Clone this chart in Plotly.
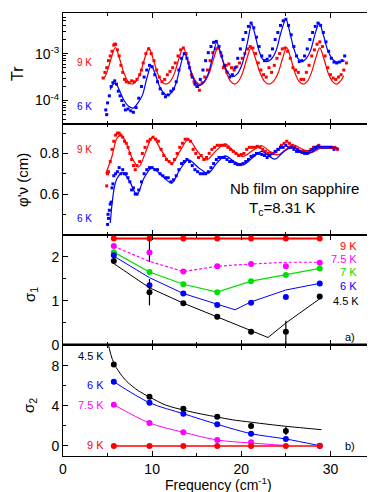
import numpy as np
import plotly.graph_objects as go

# ---------------- Panel 1: transmission Tr (log10 values) ----------------
tr9_fit_f = [4.6, 4.91, 5.39, 5.87, 6.35, 6.83, 7.3, 7.75, 8.2, 8.67, 9.15, 9.63, 10.11, 10.59, 11.07, 11.55,
             12.04, 12.52, 13.0, 13.48, 13.96, 14.44, 14.92, 15.42, 15.93, 16.41, 16.89, 17.37, 17.85, 18.33,
             18.8, 19.25, 19.68, 20.15, 20.62, 21.1, 21.6, 22.1, 22.6, 23.1, 23.62, 24.14, 24.62, 25.1, 25.56,
             26.02, 26.48, 26.95, 27.4, 27.86, 28.33, 28.8, 29.27, 29.74, 30.21, 30.7, 31.15, 31.5]
tr9_fit_lg = [-3.53, -3.41, -3.11, -2.87, -3.11, -3.41, -3.59, -3.65, -3.59, -3.41, -3.11, -2.87, -3.11, -3.41,
              -3.59, -3.65, -3.59, -3.41, -3.11, -2.87, -3.11, -3.41, -3.59, -3.66, -3.59, -3.41, -3.11, -2.88,
              -3.11, -3.41, -3.59, -3.65, -3.59, -3.41, -3.11, -2.88, -3.11, -3.41, -3.59, -3.65, -3.59, -3.41,
              -3.11, -2.87, -3.11, -3.41, -3.59, -3.65, -3.59, -3.41, -3.11, -2.88, -3.11, -3.41, -3.59, -3.65,
              -3.58, -3.47]
tr6_fit_f = [5.3, 5.6, 5.87, 6.35, 6.85, 7.35, 7.9, 8.4, 8.9, 9.4, 9.9, 10.37, 10.84, 11.3, 11.76, 12.23, 12.7,
             13.16, 13.63, 14.05, 14.47, 14.9, 15.3, 15.78, 16.27, 16.76, 17.25, 17.7, 18.15, 18.6, 19.0, 19.55,
             20.1, 20.65, 21.17, 21.57, 21.97, 22.37, 22.8, 23.35, 23.9, 24.45, 25.0, 25.45, 25.9, 26.35, 26.8,
             27.3, 27.8, 28.25, 28.75, 29.22, 29.7, 30.2, 30.7, 31.2, 31.6]
tr6_fit_lg = [-3.77, -3.66, -3.63, -3.79, -4.0, -4.12, -4.16, -4.05, -3.89, -3.53, -3.25, -3.45, -3.70, -3.84,
              -3.89, -3.82, -3.62, -3.27, -2.99, -3.2, -3.47, -3.62, -3.68, -3.61, -3.44, -3.09, -2.76, -2.99,
              -3.27, -3.43, -3.49, -3.43, -3.22, -2.80, -2.37, -2.62, -2.93, -3.11, -3.17, -3.12, -2.94, -2.55,
              -2.27, -2.55, -2.90, -3.10, -3.17, -3.10, -2.92, -2.60, -2.35, -2.61, -2.93, -3.11, -3.18, -3.17,
              -3.15]
tr9_f = [4.5, 4.7, 4.9, 5.1, 5.3, 5.5, 5.7, 5.8, 5.9, 6.1, 6.3, 6.5, 6.7, 6.9, 7.1, 7.4, 7.7, 8.0, 8.3, 8.6,
         8.8, 9.0, 9.3, 9.6, 9.9, 10.2, 10.5, 10.8, 11.1, 11.4, 11.7, 12.0, 12.3, 12.6, 12.9, 13.2, 13.5, 13.8,
         14.1, 14.4, 14.7, 15.0, 15.3, 15.6, 15.9, 16.2, 16.5, 16.8, 17.1, 17.4, 17.7, 18.0, 18.3, 18.6, 18.9,
         19.2, 19.5, 19.8, 20.1, 20.4, 20.7, 21.0, 21.3, 21.6, 21.9, 22.2, 22.5, 22.8, 23.1, 23.4, 23.7, 24.0,
         24.3, 24.6, 24.9, 25.2, 25.5, 25.8, 26.1, 26.4, 26.7, 27.0, 27.3, 27.6, 27.9, 28.2, 28.5, 28.8, 29.1,
         29.4, 29.7, 30.0, 30.3, 30.6, 30.9, 31.2, 31.5, 31.8]
tr9_lg = [-3.52, -3.40, -3.30, -3.15, -3.05, -2.95, -2.82, -2.80, -2.80, -2.92, -3.05, -3.25, -3.40, -3.55,
          -3.60, -3.62, -3.58, -3.60, -3.55, -3.45, -3.35, -3.20, -3.00, -2.90, -3.00, -3.15, -3.35, -3.50,
          -3.60, -3.55, -3.45, -3.38, -3.30, -3.20, -3.05, -2.92, -2.88, -3.00, -3.20, -3.45, -3.60, -3.70,
          -3.78, -3.62, -3.50, -3.35, -3.15, -2.98, -2.90, -2.88, -2.98, -3.30, -3.25, -3.22, -3.30, -3.35,
          -3.28, -3.20, -3.10, -3.00, -2.90, -2.85, -2.88, -3.00, -3.20, -3.35, -3.45, -3.50, -3.30, -3.40,
          -3.25, -3.10, -3.00, -2.90, -2.88, -2.95, -3.10, -3.30, -3.35, -3.40, -3.55, -3.55, -3.40, -3.25,
          -3.05, -2.92, -2.80, -2.75, -2.85, -3.05, -3.30, -3.45, -3.52, -3.55, -3.50, -3.45, -3.35, -3.20]
tr6_f = [4.8, 4.9, 5.0, 5.2, 5.4, 5.6, 5.8, 6.0, 6.2, 6.4, 6.6, 6.8, 7.0, 7.3, 7.6, 7.9, 8.2, 8.5, 8.8, 9.1,
         9.4, 9.7, 10.0, 10.3, 10.6, 10.9, 11.2, 11.5, 11.8, 12.1, 12.4, 12.7, 13.0, 13.3, 13.6, 13.9, 14.2,
         14.5, 14.8, 15.1, 15.4, 15.7, 16.0, 16.3, 16.6, 16.9, 17.2, 17.5, 17.8, 18.1, 18.4, 18.7, 19.0, 19.3,
         19.6, 19.9, 20.2, 20.5, 20.8, 21.1, 21.4, 21.7, 22.0, 22.3, 22.6, 22.9, 23.2, 23.5, 23.8, 24.1, 24.4,
         24.7, 25.0, 25.3, 25.6, 25.9, 26.2, 26.5, 26.8, 27.1, 27.4, 27.7, 28.0, 28.3, 28.6, 28.9, 29.2, 29.5,
         29.8, 30.1, 30.4, 30.7, 31.0, 31.3, 31.6]
tr6_lg = [-4.20, -4.30, -4.05, -3.90, -3.70, -3.62, -3.58, -3.65, -3.80, -3.90, -4.00, -4.10, -4.20, -4.18,
          -4.22, -4.25, -4.15, -3.95, -3.70, -3.50, -3.35, -3.25, -3.28, -3.45, -3.60, -3.75, -3.85, -3.92,
          -3.88, -3.80, -3.75, -3.60, -3.35, -3.10, -3.00, -3.10, -3.30, -3.50, -3.65, -3.70, -3.55, -3.35,
          -3.15, -2.98, -2.85, -2.76, -2.74, -2.85, -3.05, -3.25, -3.40, -3.50, -3.45, -3.30, -3.10, -2.90,
          -2.70, -2.55, -2.42, -2.35, -2.45, -2.65, -2.85, -3.05, -3.15, -3.12, -3.05, -2.90, -2.70, -2.55,
          -2.40, -2.30, -2.27, -2.40, -2.60, -2.85, -3.05, -3.17, -3.15, -3.05, -2.90, -2.70, -2.55, -2.42,
          -2.35, -2.40, -2.55, -2.75, -2.95, -3.10, -3.18, -3.20, -3.18, -3.15, -3.05]

# ---------------- Panel 2: phase / frequency (cm) ----------------
ph9_fit_f = [4.8, 5.49, 6.05, 6.5, 7.0, 7.73, 8.48, 9.3, 10.04, 11.1, 12.2, 13.1, 14.08, 15.1, 16.1, 17.2, 18.2,
             19.2, 20.2, 21.3, 22.3, 23.2, 24.15, 25.0, 25.8, 26.9, 27.9, 28.6, 29.2, 30.0, 30.9]
ph9_fit_v = [0.70, 0.785, 0.875, 0.89, 0.86, 0.78, 0.733, 0.81, 0.88, 0.81, 0.749, 0.81, 0.87, 0.81, 0.768, 0.815,
             0.847, 0.81, 0.785, 0.815, 0.838, 0.81, 0.793, 0.82, 0.842, 0.82, 0.805, 0.82, 0.831, 0.826, 0.821]
ph6_fit_f = [5.3, 5.5, 5.75, 6.05, 6.7, 7.5, 8.29, 9.1, 9.97, 11.1, 12.2, 13.1, 14.08, 15.2, 16.3, 17.3, 18.2,
             19.2, 20.2, 21.3, 22.3, 23.0, 23.8, 24.8, 25.8, 26.8, 27.7, 28.5, 29.2, 30.0, 30.9]
ph6_fit_v = [0.457, 0.55, 0.63, 0.675, 0.705, 0.66, 0.596, 0.68, 0.728, 0.69, 0.654, 0.72, 0.768, 0.73, 0.703,
             0.755, 0.788, 0.76, 0.744, 0.78, 0.81, 0.79, 0.772, 0.81, 0.831, 0.81, 0.801, 0.825, 0.834, 0.83, 0.826]
ph9_f = [4.9, 5.0, 5.1, 5.3, 5.5, 5.7, 5.9, 6.1, 6.3, 6.5, 6.7, 6.9, 7.1, 7.3, 7.5, 7.7, 7.9, 8.1, 8.3, 8.6,
         8.9, 9.2, 9.5, 9.8, 10.1, 10.4, 10.7, 11.0, 11.3, 11.6, 11.9, 12.2, 12.5, 12.8, 13.1, 13.4, 13.7, 14.0,
         14.3, 14.6, 14.9, 15.2, 15.5, 15.8, 16.1, 16.4, 16.7, 17.0, 17.3, 17.6, 17.9, 18.2, 18.5, 18.8, 19.1,
         19.4, 19.7, 20.0, 20.3, 20.6, 20.9, 21.2, 21.5, 21.8, 22.1, 22.4, 22.7, 23.0, 23.3, 23.6, 23.9, 24.2,
         24.5, 24.8, 25.1, 25.4, 25.7, 26.0, 26.3, 26.6, 26.9, 27.2, 27.5, 27.8, 28.1, 28.4, 28.7, 29.0, 29.3,
         29.6, 29.9, 30.2, 30.5, 30.8]
ph9_v = [0.64, 0.70, 0.71, 0.76, 0.82, 0.86, 0.89, 0.90, 0.90, 0.89, 0.88, 0.86, 0.85, 0.83, 0.80, 0.77, 0.74,
         0.72, 0.74, 0.76, 0.80, 0.83, 0.86, 0.87, 0.88, 0.87, 0.86, 0.82, 0.79, 0.77, 0.76, 0.75, 0.77, 0.80,
         0.83, 0.85, 0.87, 0.87, 0.86, 0.82, 0.80, 0.78, 0.79, 0.77, 0.78, 0.80, 0.82, 0.83, 0.84, 0.84, 0.84,
         0.84, 0.83, 0.82, 0.81, 0.80, 0.79, 0.795, 0.80, 0.82, 0.83, 0.83, 0.83, 0.835, 0.83, 0.82, 0.81, 0.80,
         0.80, 0.80, 0.81, 0.82, 0.84, 0.85, 0.86, 0.85, 0.84, 0.83, 0.82, 0.81, 0.81, 0.81, 0.81, 0.82, 0.83,
         0.83, 0.84, 0.83, 0.83, 0.83, 0.83, 0.83, 0.83, 0.82]
ph6_f = [5.0, 5.05, 5.1, 5.2, 5.3, 5.4, 5.5, 5.6, 5.7, 5.9, 6.1, 6.3, 6.5, 6.7, 6.9, 7.1, 7.3, 7.5, 7.7, 7.9,
         8.1, 8.3, 8.5, 8.8, 9.1, 9.4, 9.7, 10.0, 10.3, 10.6, 10.9, 11.2, 11.5, 11.8, 12.1, 12.4, 12.7, 13.0,
         13.3, 13.6, 13.9, 14.2, 14.5, 14.8, 15.1, 15.4, 15.7, 16.0, 16.3, 16.6, 16.9, 17.2, 17.5, 17.8, 18.1,
         18.4, 18.7, 19.0, 19.3, 19.6, 19.9, 20.2, 20.5, 20.8, 21.1, 21.4, 21.7, 22.0, 22.3, 22.6, 22.9, 23.2,
         23.5, 23.8, 24.1, 24.4, 24.7, 25.0, 25.3, 25.6, 25.9, 26.2, 26.5, 26.8, 27.1, 27.4, 27.7, 28.0, 28.3,
         28.6, 28.9, 29.2, 29.5, 29.8, 30.1, 30.4]
ph6_v = [0.45, 0.50, 0.48, 0.52, 0.55, 0.56, 0.63, 0.65, 0.69, 0.70, 0.71, 0.73, 0.70, 0.72, 0.70, 0.70, 0.68,
         0.66, 0.62, 0.63, 0.60, 0.60, 0.62, 0.66, 0.70, 0.72, 0.73, 0.73, 0.72, 0.72, 0.70, 0.69, 0.68, 0.68,
         0.66, 0.67, 0.69, 0.72, 0.75, 0.76, 0.77, 0.76, 0.74, 0.72, 0.71, 0.70, 0.70, 0.70, 0.71, 0.73, 0.75,
         0.77, 0.78, 0.78, 0.78, 0.77, 0.76, 0.76, 0.75, 0.745, 0.745, 0.75, 0.76, 0.77, 0.785, 0.79, 0.80, 0.80,
         0.795, 0.79, 0.78, 0.79, 0.80, 0.81, 0.82, 0.83, 0.83, 0.84, 0.83, 0.83, 0.82, 0.81, 0.81, 0.805, 0.80,
         0.80, 0.81, 0.82, 0.83, 0.835, 0.83, 0.83, 0.83, 0.83, 0.83, 0.82]

# ---------------- Panels 3 & 4: conductivity ----------------
sig_f = [5.7, 9.7, 13.5, 17.3, 21.1, 25.0, 28.8]
s1_9K = [2.42, 2.42, 2.42, 2.42, 2.42, 2.42, 2.42]
s1_75K = [2.25, 2.10, 1.67, 1.79, 1.84, 1.79, 1.87]
s1_75K_line = [2.24, 1.90, 1.67, 1.79, 1.84, 1.88, 1.88]
s1_7K = [2.11, 1.66, 1.38, 1.20, 1.45, 1.59, 1.74]
s1_6K = [2.04, 1.36, 1.17, 0.91, 0.96, 1.09, 1.40]
s1_6K_line_f = [5.7, 9.7, 13.5, 17.3, 19.3, 21.1, 25.0, 28.8]
s1_6K_line = [2.02, 1.53, 1.17, 0.92, 0.80, 0.98, 1.25, 1.40]
s1_45K = [1.91, 1.20, 0.95, 0.64, 0.30, 0.30, 1.10]
s1_45K_line_f = [5.7, 9.7, 13.5, 17.3, 21.1, 23.0, 25.0, 28.8]
s1_45K_line = [1.85, 1.30, 0.95, 0.64, 0.33, 0.17, 0.50, 1.05]
s1_err_plus_45K = [0, 0.30, 0, 0, 0, 0.25, 0]
s1_err_minus_45K = [0, 0.30, 0, 0, 0, 0.35, 0]
s1_err_plus_75K = [0, 0.32, 0, 0, 0, 0, 0]
s1_err_minus_75K = [0, 0.21, 0, 0, 0, 0, 0]

s2_45K = [8.16, 4.93, 3.73, 2.93, 2.0, 1.5]
s2_45K_err = [0, 0, 0, 0, 0.3, 0.4]
s2_45K_line_f = [5.0, 5.7, 7.0, 8.5, 9.7, 11.5, 13.5, 15.5, 17.3, 19.0, 21.1, 23.0, 25.0, 27.0, 29.0]
s2_45K_line = [10.5, 8.3, 6.6, 5.5, 4.9, 4.1, 3.6, 3.2, 2.9, 2.62, 2.38, 2.17, 1.97, 1.8, 1.63]
s2_6K = [6.43, 4.33, 3.23, 2.17, 1.23, 0.70, 0.03]
s2_75K = [4.13, 2.30, 1.37, 0.60, 0.37]
s2_75K_line_f = [5.7, 9.7, 13.5, 17.3, 21.1, 25.0]
s2_75K_line = [4.13, 2.30, 1.37, 0.60, 0.30, 0.05]
s2_9K = [0, 0, 0, 0, 0, 0, 0]

RED, BLUE, MAG, GRN, BLK = "#ff0000", "#0000ff", "#ff00ff", "#00e000", "#000000"
FONT = "Arial, Liberation Sans, sans-serif"

# layout geometry (pixels)
W, H = 375, 492
ML, MR, MT, MB = 55, 8, 5, 44
def px(x):
    return (x - ML) / (W - ML - MR)
def py(y):
    return (H - MB - y) / (H - MT - MB)

fig = go.Figure()

def sq(x, y, c, xa, ya):
    fig.add_trace(go.Scatter(x=x, y=y, mode="markers", xaxis=xa, yaxis=ya,
                             marker=dict(symbol="square", size=3, color=c), showlegend=False))

def fit(x, y, c, xa, ya, w=1.2, dash="solid", shape="spline"):
    fig.add_trace(go.Scatter(x=x, y=y, mode="lines", xaxis=xa, yaxis=ya,
                             line=dict(color=c, width=w, dash=dash, shape=shape, smoothing=0.9),
                             showlegend=False))

# Panel 1
sq(tr9_f, list(10 ** np.array(tr9_lg)), RED, "x", "y")
sq(tr6_f, list(10 ** np.array(tr6_lg)), BLUE, "x", "y")
fit(tr9_fit_f, list(10 ** np.array(tr9_fit_lg)), RED, "x", "y")
fit(tr6_fit_f, list(10 ** np.array(tr6_fit_lg)), BLUE, "x", "y")

# Panel 2
sq(ph9_f, ph9_v, RED, "x2", "y2")
sq(ph6_f, ph6_v, BLUE, "x2", "y2")
fit(ph9_fit_f, ph9_fit_v, RED, "x2", "y2")
fit(ph6_fit_f, ph6_fit_v, BLUE, "x2", "y2")

# Panel 3 (sigma1)
def pts(x, y, c, xa, ya, err=None, size=6):
    kw = {}
    if err is not None:
        kw["error_y"] = dict(type="data", symmetric=False, array=err[0], arrayminus=err[1],
                             color="black", thickness=1.2, width=0)
    fig.add_trace(go.Scatter(x=x, y=y, mode="markers", xaxis=xa, yaxis=ya,
                             marker=dict(symbol="circle", size=size, color=c), showlegend=False, **kw))

fit(sig_f, s1_9K, RED, "x3", "y3", w=2, shape="linear")
pts(sig_f, s1_9K, RED, "x3", "y3")
fit(sig_f, s1_75K_line, MAG, "x3", "y3", w=1.2, dash="3px,2px", shape="linear")
pts(sig_f, s1_75K, MAG, "x3", "y3", err=(s1_err_plus_75K, s1_err_minus_75K))
fit(sig_f, s1_7K, GRN, "x3", "y3", w=1.2, shape="linear")
pts(sig_f, s1_7K, GRN, "x3", "y3")
fit(s1_6K_line_f, s1_6K_line, BLUE, "x3", "y3", w=1, shape="linear")
pts(sig_f, s1_6K, BLUE, "x3", "y3")
fit(s1_45K_line_f, s1_45K_line, BLK, "x3", "y3", w=1, shape="linear")
pts(sig_f, s1_45K, BLK, "x3", "y3", err=(s1_err_plus_45K, s1_err_minus_45K))

# Panel 4 (sigma2)
fit(s2_45K_line_f, s2_45K_line, BLK, "x4", "y4", w=1)
pts(sig_f[:6], s2_45K, BLK, "x4", "y4", err=(s2_45K_err, s2_45K_err))
fit(sig_f, s2_6K, BLUE, "x4", "y4", w=1)
pts(sig_f, s2_6K, BLUE, "x4", "y4")
fit(s2_75K_line_f, s2_75K_line, MAG, "x4", "y4", w=1)
pts(sig_f[:5], s2_75K, MAG, "x4", "y4")
fit(sig_f, s2_9K, RED, "x4", "y4", w=1.5, shape="linear")
pts(sig_f, s2_9K, RED, "x4", "y4")

tickfont = dict(family=FONT, size=14, color="black")
doms = [[0.7494, 1.0], [0.4989, 0.7494], [0.2506, 0.4989], [0.0, 0.2506]]
common_x = dict(range=[0, 35], showline=True, linecolor="black", linewidth=1, mirror="ticks",
                ticks="inside", ticklen=5, tickwidth=1, tickcolor="black",
                tickvals=[0, 10, 20, 30], showgrid=False, zeroline=False, tickfont=tickfont,
                minor=dict(ticks="inside", ticklen=3, tickvals=[5, 15, 25], tickcolor="black", showgrid=False))
layout = dict(width=W, height=H, margin=dict(l=ML, r=MR, t=MT, b=MB),
              paper_bgcolor="white", plot_bgcolor="white", showlegend=False,
              font=dict(family=FONT, color="black"))
for i, dom in enumerate(doms):
    n = "" if i == 0 else str(i + 1)
    xa = dict(common_x, domain=[0, 1], anchor="y" + n, showticklabels=(i == 3))
    if i == 3:
        xa["ticktext"] = ["0", "10", "20", "30"]
    layout["xaxis" + n] = xa
common_y = dict(showline=True, linecolor="black", linewidth=1, mirror="ticks", ticks="inside",
                ticklen=5, tickwidth=1, tickcolor="black", showgrid=False, zeroline=False,
                tickfont=tickfont)
minor_log = [4e-5, 5e-5, 6e-5, 7e-5, 8e-5, 9e-5, 2e-4, 3e-4, 4e-4, 5e-4, 6e-4, 7e-4, 8e-4, 9e-4,
             2e-3, 3e-3, 4e-3, 5e-3, 6e-3, 7e-3]
layout["yaxis"] = dict(common_y, domain=doms[0], anchor="x", type="log", range=[-4.5, -2.135],
                       tickvals=[1e-4, 1e-3], ticktext=["10<sup>-4</sup>", "10<sup>-3</sup>"],
                       minor=dict(ticks="inside", ticklen=3, tickvals=minor_log, tickcolor="black", showgrid=False))
layout["yaxis2"] = dict(common_y, domain=doms[1], anchor="x2", range=[0.398, 0.945],
                        tickvals=[0.6, 0.8], ticktext=["0.6", "0.8"],
                        minor=dict(ticks="inside", ticklen=3, tickvals=[0.5, 0.7, 0.9], tickcolor="black", showgrid=False))
layout["yaxis3"] = dict(common_y, domain=doms[2], anchor="x3", range=[0, 2.5],
                        tickvals=[0, 1, 2], ticktext=["0", "1", "2"],
                        minor=dict(ticks="inside", ticklen=3, tickvals=[0.5, 1.5], tickcolor="black", showgrid=False))
layout["yaxis4"] = dict(common_y, domain=doms[3], anchor="x4", range=[-1, 10.1],
                        tickvals=[0, 4, 8], ticktext=["0", "4", "8"],
                        minor=dict(ticks="inside", ticklen=3, tickvals=[2, 6], tickcolor="black", showgrid=False))
fig.update_layout(**layout)

# thick separator at sigma1 = 0
fig.add_shape(type="line", xref="paper", yref="y3", x0=0, x1=1, y0=0, y1=0,
              line=dict(color="black", width=3))

def ann(x, y, text, color="black", size=11, xanchor="center", angle=0, yanchor="middle"):
    fig.add_annotation(x=px(x), y=py(y), xref="paper", yref="paper", text=text, showarrow=False,
                       font=dict(family=FONT, size=size, color=color), xanchor=xanchor,
                       yanchor=yanchor, textangle=angle, borderpad=0)

# axis titles
ann(10, 66, "Tr", size=16, angle=-90)
ann(14, 172, "φ'ν (cm)", size=15, angle=-90)
ann(22, 287, "σ<sub>1</sub>", size=15, angle=-90)
ann(21, 398, "σ<sub>2</sub>", size=15, angle=-90)
ann(210, 466, "Frequency (cm<sup>-1</sup>)", size=14, yanchor="top")

# series labels
ann(68, 54, "9 K", RED, 10, "left")
ann(68, 99, "6 K", BLUE, 10, "left")
ann(68, 142, "9 K", RED, 10, "left")
ann(68, 211, "6 K", BLUE, 10, "left")
ann(286, 190, "Nb film on sapphire", size=15, yanchor="bottom")
ann(274, 190, "T<sub>c</sub>=8.31 K", size=15, yanchor="top")

ann(350, 238, "9 K", RED, 11, "right")
ann(350, 251, "7.5 K", MAG, 11, "right")
ann(350, 264, "7 K", GRN, 11, "right")
ann(350, 278, "6 K", BLUE, 11, "right")
ann(352, 293, "4.5 K", BLK, 11, "right")
ann(348, 329, "a)", BLK, 11, "right")

ann(97, 348, "4.5 K", BLK, 11, "right")
ann(97, 377, "6 K", BLUE, 11, "right")
ann(97, 397, "7.5 K", MAG, 11, "right")
ann(97, 437, "9 K", RED, 11, "right")
ann(348, 438, "b)", BLK, 11, "right")

fig.write_html("out.html")
